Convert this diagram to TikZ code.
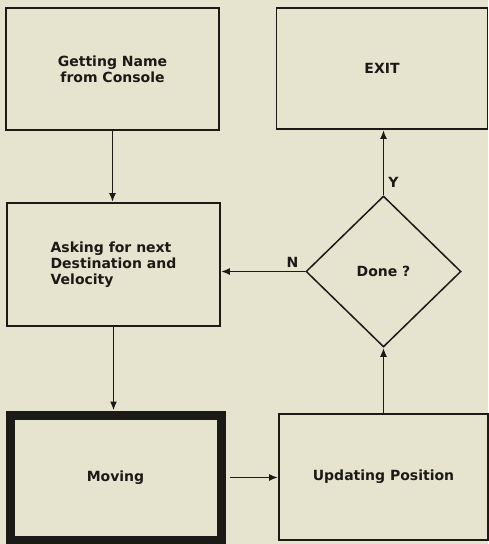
\documentclass[tikz,border=0pt]{standalone}
\usepackage{fontspec}
\setmainfont{DejaVu Sans}
\usetikzlibrary{shapes.geometric,arrows.meta}
\definecolor{paper}{RGB}{230,227,207}
\definecolor{ink}{RGB}{28,26,22}

\begin{document}
\begin{tikzpicture}[x=1pt,y=-1pt,
        every node/.style={font=\fontsize{14}{16}\selectfont\bfseries,text=ink},
        stepbox/.style={draw=ink,line width=1.8pt,rectangle,minimum width=213pt,minimum height=122pt},
        test/.style={draw=ink,line width=1.5pt,diamond,inner sep=0pt,minimum width=155pt,minimum height=151pt},
        flow/.style={draw=ink,line width=1.8pt,-{Latex[length=9pt,width=7pt]}}]
        \fill[paper] (0,0) rectangle (488,544);
        \useasboundingbox (0,0) rectangle (488,544);
        \node[stepbox,align=center] (r1c1) at (112.5,69) {Getting Name\\from Console};
        \node[stepbox,minimum width=211pt,minimum height=121pt] (r1c2) at (382,68.5) {EXIT};
        \node[stepbox,align=left,minimum height=123pt] (r2c1) at (113.5,264.5) {Asking for next\\Destination and\\Velocity};
        \node[test] (r2c2) at (383.5,271.5) {Done ?};
        \node[stepbox,line width=9pt,minimum width=211pt,minimum height=125pt] (r3c1) at (115.5,477.5) {Moving};
        \node[stepbox,minimum width=209pt,minimum height=126pt] (r3c2) at (383.5,477) {Updating Position};
        \draw[flow] (r1c1) -- (r1c1.south |- r2c1.north);
        \draw[flow] (r2c1) -- (r2c1.south |- r3c1.north);
        \draw[flow,shorten <=4pt] (r3c1.east) -- (r3c1.east -| r3c2.west);
        \draw[flow] (r3c2) -- (r2c2);
        \draw[flow] (r2c2.north) -- node[pos=0.2,right,inner sep=4pt] {Y} (r2c2.north |- r1c2.south);
        \draw[flow] (r2c2.west) -- node[pos=0.15,above,inner sep=3pt] {N} (r2c2.west -| r2c1.east);
      \end{tikzpicture}
\end{document}
